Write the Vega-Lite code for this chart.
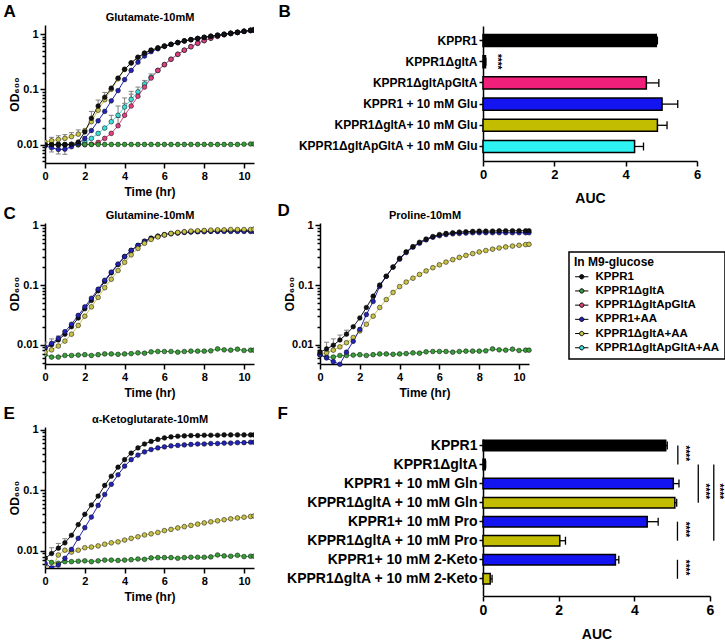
{
"$schema":"https://vega.github.io/schema/vega-lite/v6.json",
"background":"white",
"padding":{"left":3,"top":2,"right":0,"bottom":0},
"datasets":{
"ln":[
{"p":"A","s":"pa","t":0,"y":0.01},{"p":"A","s":"pa","t":0.33,"y":0.01},{"p":"A","s":"pa","t":0.67,"y":0.01},{"p":"A","s":"pa","t":1,"y":0.01},{"p":"A","s":"pa","t":1.33,"y":0.01},{"p":"A","s":"pa","t":1.67,"y":0.01},{"p":"A","s":"pa","t":2,"y":0.011},{"p":"A","s":"pa","t":2.33,"y":0.013},{"p":"A","s":"pa","t":2.67,"y":0.016},{"p":"A","s":"pa","t":3,"y":0.02},{"p":"A","s":"pa","t":3.33,"y":0.026},{"p":"A","s":"pa","t":3.67,"y":0.034},{"p":"A","s":"pa","t":4,"y":0.048},{"p":"A","s":"pa","t":4.33,"y":0.066},{"p":"A","s":"pa","t":4.67,"y":0.09},{"p":"A","s":"pa","t":5,"y":0.125},{"p":"A","s":"pa","t":5.33,"y":0.165},{"p":"A","s":"pa","t":5.67,"y":0.22},{"p":"A","s":"pa","t":6,"y":0.28},{"p":"A","s":"pa","t":6.33,"y":0.35},{"p":"A","s":"pa","t":6.67,"y":0.43},{"p":"A","s":"pa","t":7,"y":0.51},{"p":"A","s":"pa","t":7.33,"y":0.59},{"p":"A","s":"pa","t":7.67,"y":0.68},{"p":"A","s":"pa","t":8,"y":0.76},{"p":"A","s":"pa","t":8.33,"y":0.84},{"p":"A","s":"pa","t":8.67,"y":0.91},{"p":"A","s":"pa","t":9,"y":0.97},{"p":"A","s":"pa","t":9.33,"y":1.02},{"p":"A","s":"pa","t":9.67,"y":1.07},{"p":"A","s":"pa","t":10,"y":1.12},{"p":"A","s":"pa","t":10.33,"y":1.17},{"p":"A","s":"pa","t":10.5,"y":1.2},
{"p":"A","s":"p","t":0,"y":0.01},{"p":"A","s":"p","t":0.33,"y":0.01},{"p":"A","s":"p","t":0.67,"y":0.01},{"p":"A","s":"p","t":1,"y":0.01},{"p":"A","s":"p","t":1.33,"y":0.01},{"p":"A","s":"p","t":1.67,"y":0.01},{"p":"A","s":"p","t":2,"y":0.01},{"p":"A","s":"p","t":2.33,"y":0.0102},{"p":"A","s":"p","t":2.67,"y":0.011},{"p":"A","s":"p","t":3,"y":0.013},{"p":"A","s":"p","t":3.33,"y":0.016},{"p":"A","s":"p","t":3.67,"y":0.022},{"p":"A","s":"p","t":4,"y":0.034},{"p":"A","s":"p","t":4.33,"y":0.05},{"p":"A","s":"p","t":4.67,"y":0.075},{"p":"A","s":"p","t":5,"y":0.11},{"p":"A","s":"p","t":5.33,"y":0.16},{"p":"A","s":"p","t":5.67,"y":0.22},{"p":"A","s":"p","t":6,"y":0.28},{"p":"A","s":"p","t":6.33,"y":0.35},{"p":"A","s":"p","t":6.67,"y":0.43},{"p":"A","s":"p","t":7,"y":0.51},{"p":"A","s":"p","t":7.33,"y":0.59},{"p":"A","s":"p","t":7.67,"y":0.68},{"p":"A","s":"p","t":8,"y":0.76},{"p":"A","s":"p","t":8.33,"y":0.84},{"p":"A","s":"p","t":8.67,"y":0.91},{"p":"A","s":"p","t":9,"y":0.97},{"p":"A","s":"p","t":9.33,"y":1.02},{"p":"A","s":"p","t":9.67,"y":1.07},{"p":"A","s":"p","t":10,"y":1.12},{"p":"A","s":"p","t":10.33,"y":1.17},{"p":"A","s":"p","t":10.5,"y":1.2},
{"p":"A","s":"g","t":0,"y":0.0101},{"p":"A","s":"g","t":0.33,"y":0.0101},{"p":"A","s":"g","t":0.67,"y":0.0101},{"p":"A","s":"g","t":1,"y":0.0101},{"p":"A","s":"g","t":1.33,"y":0.0101},{"p":"A","s":"g","t":1.67,"y":0.0101},{"p":"A","s":"g","t":2,"y":0.0101},{"p":"A","s":"g","t":2.33,"y":0.0101},{"p":"A","s":"g","t":2.67,"y":0.0101},{"p":"A","s":"g","t":3,"y":0.0101},{"p":"A","s":"g","t":3.33,"y":0.0101},{"p":"A","s":"g","t":3.67,"y":0.0101},{"p":"A","s":"g","t":4,"y":0.0101},{"p":"A","s":"g","t":4.33,"y":0.0101},{"p":"A","s":"g","t":4.67,"y":0.0101},{"p":"A","s":"g","t":5,"y":0.0101},{"p":"A","s":"g","t":5.33,"y":0.0101},{"p":"A","s":"g","t":5.67,"y":0.0101},{"p":"A","s":"g","t":6,"y":0.0101},{"p":"A","s":"g","t":6.33,"y":0.0101},{"p":"A","s":"g","t":6.67,"y":0.0101},{"p":"A","s":"g","t":7,"y":0.0101},{"p":"A","s":"g","t":7.33,"y":0.0101},{"p":"A","s":"g","t":7.67,"y":0.0101},{"p":"A","s":"g","t":8,"y":0.0101},{"p":"A","s":"g","t":8.33,"y":0.0101},{"p":"A","s":"g","t":8.67,"y":0.0101},{"p":"A","s":"g","t":9,"y":0.0101},{"p":"A","s":"g","t":9.33,"y":0.0101},{"p":"A","s":"g","t":9.67,"y":0.0101},{"p":"A","s":"g","t":10,"y":0.0102},{"p":"A","s":"g","t":10.33,"y":0.0103},{"p":"A","s":"g","t":10.5,"y":0.0103},
{"p":"A","s":"ga","t":0,"y":0.0112},{"p":"A","s":"ga","t":0.33,"y":0.0118},{"p":"A","s":"ga","t":0.67,"y":0.0124},{"p":"A","s":"ga","t":1,"y":0.013},{"p":"A","s":"ga","t":1.33,"y":0.014},{"p":"A","s":"ga","t":1.67,"y":0.0155},{"p":"A","s":"ga","t":2,"y":0.018},{"p":"A","s":"ga","t":2.33,"y":0.026},{"p":"A","s":"ga","t":2.67,"y":0.042},{"p":"A","s":"ga","t":3,"y":0.065},{"p":"A","s":"ga","t":3.33,"y":0.1},{"p":"A","s":"ga","t":3.67,"y":0.155},{"p":"A","s":"ga","t":4,"y":0.23},{"p":"A","s":"ga","t":4.33,"y":0.3},{"p":"A","s":"ga","t":4.67,"y":0.38},{"p":"A","s":"ga","t":5,"y":0.45},{"p":"A","s":"ga","t":5.33,"y":0.51},{"p":"A","s":"ga","t":5.67,"y":0.56},{"p":"A","s":"ga","t":6,"y":0.61},{"p":"A","s":"ga","t":6.33,"y":0.65},{"p":"A","s":"ga","t":6.67,"y":0.7},{"p":"A","s":"ga","t":7,"y":0.75},{"p":"A","s":"ga","t":7.33,"y":0.79},{"p":"A","s":"ga","t":7.67,"y":0.83},{"p":"A","s":"ga","t":8,"y":0.87},{"p":"A","s":"ga","t":8.33,"y":0.91},{"p":"A","s":"ga","t":8.67,"y":0.95},{"p":"A","s":"ga","t":9,"y":0.99},{"p":"A","s":"ga","t":9.33,"y":1.03},{"p":"A","s":"ga","t":9.67,"y":1.07},{"p":"A","s":"ga","t":10,"y":1.12},{"p":"A","s":"ga","t":10.33,"y":1.16},{"p":"A","s":"ga","t":10.5,"y":1.18},
{"p":"A","s":"ka","t":0,"y":0.0095},{"p":"A","s":"ka","t":0.33,"y":0.0088},{"p":"A","s":"ka","t":0.67,"y":0.0082},{"p":"A","s":"ka","t":1,"y":0.0083},{"p":"A","s":"ka","t":1.33,"y":0.0092},{"p":"A","s":"ka","t":1.67,"y":0.0105},{"p":"A","s":"ka","t":2,"y":0.013},{"p":"A","s":"ka","t":2.33,"y":0.018},{"p":"A","s":"ka","t":2.67,"y":0.027},{"p":"A","s":"ka","t":3,"y":0.04},{"p":"A","s":"ka","t":3.33,"y":0.062},{"p":"A","s":"ka","t":3.67,"y":0.095},{"p":"A","s":"ka","t":4,"y":0.15},{"p":"A","s":"ka","t":4.33,"y":0.22},{"p":"A","s":"ka","t":4.67,"y":0.31},{"p":"A","s":"ka","t":5,"y":0.4},{"p":"A","s":"ka","t":5.33,"y":0.48},{"p":"A","s":"ka","t":5.67,"y":0.54},{"p":"A","s":"ka","t":6,"y":0.6},{"p":"A","s":"ka","t":6.33,"y":0.65},{"p":"A","s":"ka","t":6.67,"y":0.7},{"p":"A","s":"ka","t":7,"y":0.75},{"p":"A","s":"ka","t":7.33,"y":0.79},{"p":"A","s":"ka","t":7.67,"y":0.83},{"p":"A","s":"ka","t":8,"y":0.87},{"p":"A","s":"ka","t":8.33,"y":0.91},{"p":"A","s":"ka","t":8.67,"y":0.95},{"p":"A","s":"ka","t":9,"y":0.99},{"p":"A","s":"ka","t":9.33,"y":1.03},{"p":"A","s":"ka","t":9.67,"y":1.07},{"p":"A","s":"ka","t":10,"y":1.11},{"p":"A","s":"ka","t":10.33,"y":1.15},{"p":"A","s":"ka","t":10.5,"y":1.17},
{"p":"A","s":"k","t":0,"y":0.01},{"p":"A","s":"k","t":0.33,"y":0.01},{"p":"A","s":"k","t":0.67,"y":0.01},{"p":"A","s":"k","t":1,"y":0.01},{"p":"A","s":"k","t":1.33,"y":0.0102},{"p":"A","s":"k","t":1.67,"y":0.0112},{"p":"A","s":"k","t":2,"y":0.017},{"p":"A","s":"k","t":2.33,"y":0.03},{"p":"A","s":"k","t":2.67,"y":0.05},{"p":"A","s":"k","t":3,"y":0.072},{"p":"A","s":"k","t":3.33,"y":0.105},{"p":"A","s":"k","t":3.67,"y":0.16},{"p":"A","s":"k","t":4,"y":0.23},{"p":"A","s":"k","t":4.33,"y":0.3},{"p":"A","s":"k","t":4.67,"y":0.38},{"p":"A","s":"k","t":5,"y":0.45},{"p":"A","s":"k","t":5.33,"y":0.51},{"p":"A","s":"k","t":5.67,"y":0.56},{"p":"A","s":"k","t":6,"y":0.6},{"p":"A","s":"k","t":6.33,"y":0.65},{"p":"A","s":"k","t":6.67,"y":0.7},{"p":"A","s":"k","t":7,"y":0.75},{"p":"A","s":"k","t":7.33,"y":0.79},{"p":"A","s":"k","t":7.67,"y":0.83},{"p":"A","s":"k","t":8,"y":0.87},{"p":"A","s":"k","t":8.33,"y":0.91},{"p":"A","s":"k","t":8.67,"y":0.95},{"p":"A","s":"k","t":9,"y":0.99},{"p":"A","s":"k","t":9.33,"y":1.03},{"p":"A","s":"k","t":9.67,"y":1.07},{"p":"A","s":"k","t":10,"y":1.12},{"p":"A","s":"k","t":10.33,"y":1.16},{"p":"A","s":"k","t":10.5,"y":1.18},
{"p":"C","s":"g","t":0,"y":0.0068},{"p":"C","s":"g","t":0.33,"y":0.0062},{"p":"C","s":"g","t":0.67,"y":0.0062},{"p":"C","s":"g","t":1,"y":0.0066},{"p":"C","s":"g","t":1.33,"y":0.0066},{"p":"C","s":"g","t":1.67,"y":0.0067},{"p":"C","s":"g","t":2,"y":0.0068},{"p":"C","s":"g","t":2.33,"y":0.0066},{"p":"C","s":"g","t":2.67,"y":0.0068},{"p":"C","s":"g","t":3,"y":0.007},{"p":"C","s":"g","t":3.33,"y":0.007},{"p":"C","s":"g","t":3.67,"y":0.0069},{"p":"C","s":"g","t":4,"y":0.007},{"p":"C","s":"g","t":4.33,"y":0.0071},{"p":"C","s":"g","t":4.67,"y":0.0073},{"p":"C","s":"g","t":5,"y":0.0072},{"p":"C","s":"g","t":5.33,"y":0.0076},{"p":"C","s":"g","t":5.67,"y":0.0077},{"p":"C","s":"g","t":6,"y":0.0077},{"p":"C","s":"g","t":6.33,"y":0.0077},{"p":"C","s":"g","t":6.67,"y":0.0075},{"p":"C","s":"g","t":7,"y":0.0077},{"p":"C","s":"g","t":7.33,"y":0.0078},{"p":"C","s":"g","t":7.67,"y":0.0078},{"p":"C","s":"g","t":8,"y":0.0078},{"p":"C","s":"g","t":8.33,"y":0.0079},{"p":"C","s":"g","t":8.67,"y":0.0085},{"p":"C","s":"g","t":9,"y":0.0082},{"p":"C","s":"g","t":9.33,"y":0.0081},{"p":"C","s":"g","t":9.67,"y":0.0084},{"p":"C","s":"g","t":10,"y":0.008},{"p":"C","s":"g","t":10.33,"y":0.0081},{"p":"C","s":"g","t":10.5,"y":0.0081},
{"p":"C","s":"k","t":0,"y":0.0085},{"p":"C","s":"k","t":0.33,"y":0.01},{"p":"C","s":"k","t":0.67,"y":0.012},{"p":"C","s":"k","t":1,"y":0.015},{"p":"C","s":"k","t":1.33,"y":0.02},{"p":"C","s":"k","t":1.67,"y":0.028},{"p":"C","s":"k","t":2,"y":0.04},{"p":"C","s":"k","t":2.33,"y":0.055},{"p":"C","s":"k","t":2.67,"y":0.08},{"p":"C","s":"k","t":3,"y":0.115},{"p":"C","s":"k","t":3.33,"y":0.16},{"p":"C","s":"k","t":3.67,"y":0.22},{"p":"C","s":"k","t":4,"y":0.3},{"p":"C","s":"k","t":4.33,"y":0.38},{"p":"C","s":"k","t":4.67,"y":0.46},{"p":"C","s":"k","t":5,"y":0.54},{"p":"C","s":"k","t":5.33,"y":0.61},{"p":"C","s":"k","t":5.67,"y":0.66},{"p":"C","s":"k","t":6,"y":0.7},{"p":"C","s":"k","t":6.33,"y":0.73},{"p":"C","s":"k","t":6.67,"y":0.75},{"p":"C","s":"k","t":7,"y":0.77},{"p":"C","s":"k","t":7.33,"y":0.78},{"p":"C","s":"k","t":7.67,"y":0.79},{"p":"C","s":"k","t":8,"y":0.8},{"p":"C","s":"k","t":8.33,"y":0.8},{"p":"C","s":"k","t":8.67,"y":0.8},{"p":"C","s":"k","t":9,"y":0.81},{"p":"C","s":"k","t":9.33,"y":0.81},{"p":"C","s":"k","t":9.67,"y":0.81},{"p":"C","s":"k","t":10,"y":0.81},{"p":"C","s":"k","t":10.33,"y":0.81},{"p":"C","s":"k","t":10.5,"y":0.81},
{"p":"C","s":"ka","t":0,"y":0.009},{"p":"C","s":"ka","t":0.33,"y":0.0105},{"p":"C","s":"ka","t":0.67,"y":0.0128},{"p":"C","s":"ka","t":1,"y":0.0165},{"p":"C","s":"ka","t":1.33,"y":0.022},{"p":"C","s":"ka","t":1.67,"y":0.031},{"p":"C","s":"ka","t":2,"y":0.043},{"p":"C","s":"ka","t":2.33,"y":0.06},{"p":"C","s":"ka","t":2.67,"y":0.085},{"p":"C","s":"ka","t":3,"y":0.12},{"p":"C","s":"ka","t":3.33,"y":0.165},{"p":"C","s":"ka","t":3.67,"y":0.225},{"p":"C","s":"ka","t":4,"y":0.3},{"p":"C","s":"ka","t":4.33,"y":0.38},{"p":"C","s":"ka","t":4.67,"y":0.46},{"p":"C","s":"ka","t":5,"y":0.54},{"p":"C","s":"ka","t":5.33,"y":0.6},{"p":"C","s":"ka","t":5.67,"y":0.65},{"p":"C","s":"ka","t":6,"y":0.69},{"p":"C","s":"ka","t":6.33,"y":0.72},{"p":"C","s":"ka","t":6.67,"y":0.74},{"p":"C","s":"ka","t":7,"y":0.76},{"p":"C","s":"ka","t":7.33,"y":0.77},{"p":"C","s":"ka","t":7.67,"y":0.78},{"p":"C","s":"ka","t":8,"y":0.78},{"p":"C","s":"ka","t":8.33,"y":0.79},{"p":"C","s":"ka","t":8.67,"y":0.79},{"p":"C","s":"ka","t":9,"y":0.79},{"p":"C","s":"ka","t":9.33,"y":0.79},{"p":"C","s":"ka","t":9.67,"y":0.79},{"p":"C","s":"ka","t":10,"y":0.79},{"p":"C","s":"ka","t":10.33,"y":0.79},{"p":"C","s":"ka","t":10.5,"y":0.79},
{"p":"C","s":"ga","t":0,"y":0.0075},{"p":"C","s":"ga","t":0.33,"y":0.0082},{"p":"C","s":"ga","t":0.67,"y":0.0095},{"p":"C","s":"ga","t":1,"y":0.0115},{"p":"C","s":"ga","t":1.33,"y":0.015},{"p":"C","s":"ga","t":1.67,"y":0.021},{"p":"C","s":"ga","t":2,"y":0.03},{"p":"C","s":"ga","t":2.33,"y":0.043},{"p":"C","s":"ga","t":2.67,"y":0.062},{"p":"C","s":"ga","t":3,"y":0.09},{"p":"C","s":"ga","t":3.33,"y":0.125},{"p":"C","s":"ga","t":3.67,"y":0.175},{"p":"C","s":"ga","t":4,"y":0.24},{"p":"C","s":"ga","t":4.33,"y":0.32},{"p":"C","s":"ga","t":4.67,"y":0.41},{"p":"C","s":"ga","t":5,"y":0.5},{"p":"C","s":"ga","t":5.33,"y":0.58},{"p":"C","s":"ga","t":5.67,"y":0.64},{"p":"C","s":"ga","t":6,"y":0.69},{"p":"C","s":"ga","t":6.33,"y":0.73},{"p":"C","s":"ga","t":6.67,"y":0.76},{"p":"C","s":"ga","t":7,"y":0.78},{"p":"C","s":"ga","t":7.33,"y":0.8},{"p":"C","s":"ga","t":7.67,"y":0.81},{"p":"C","s":"ga","t":8,"y":0.82},{"p":"C","s":"ga","t":8.33,"y":0.83},{"p":"C","s":"ga","t":8.67,"y":0.84},{"p":"C","s":"ga","t":9,"y":0.84},{"p":"C","s":"ga","t":9.33,"y":0.85},{"p":"C","s":"ga","t":9.67,"y":0.85},{"p":"C","s":"ga","t":10,"y":0.85},{"p":"C","s":"ga","t":10.33,"y":0.85},{"p":"C","s":"ga","t":10.5,"y":0.86},
{"p":"D","s":"g","t":0,"y":0.0068},{"p":"D","s":"g","t":0.33,"y":0.0062},{"p":"D","s":"g","t":0.67,"y":0.0062},{"p":"D","s":"g","t":1,"y":0.0066},{"p":"D","s":"g","t":1.33,"y":0.0066},{"p":"D","s":"g","t":1.67,"y":0.0067},{"p":"D","s":"g","t":2,"y":0.0068},{"p":"D","s":"g","t":2.33,"y":0.0066},{"p":"D","s":"g","t":2.67,"y":0.0068},{"p":"D","s":"g","t":3,"y":0.007},{"p":"D","s":"g","t":3.33,"y":0.007},{"p":"D","s":"g","t":3.67,"y":0.0069},{"p":"D","s":"g","t":4,"y":0.007},{"p":"D","s":"g","t":4.33,"y":0.0071},{"p":"D","s":"g","t":4.67,"y":0.0073},{"p":"D","s":"g","t":5,"y":0.0072},{"p":"D","s":"g","t":5.33,"y":0.0076},{"p":"D","s":"g","t":5.67,"y":0.0077},{"p":"D","s":"g","t":6,"y":0.0077},{"p":"D","s":"g","t":6.33,"y":0.0077},{"p":"D","s":"g","t":6.67,"y":0.0075},{"p":"D","s":"g","t":7,"y":0.0077},{"p":"D","s":"g","t":7.33,"y":0.0078},{"p":"D","s":"g","t":7.67,"y":0.0078},{"p":"D","s":"g","t":8,"y":0.0078},{"p":"D","s":"g","t":8.33,"y":0.0079},{"p":"D","s":"g","t":8.67,"y":0.0085},{"p":"D","s":"g","t":9,"y":0.0082},{"p":"D","s":"g","t":9.33,"y":0.0081},{"p":"D","s":"g","t":9.67,"y":0.0084},{"p":"D","s":"g","t":10,"y":0.008},{"p":"D","s":"g","t":10.33,"y":0.0081},{"p":"D","s":"g","t":10.5,"y":0.0081},
{"p":"D","s":"ga","t":0,"y":0.0068},{"p":"D","s":"ga","t":0.33,"y":0.0073},{"p":"D","s":"ga","t":0.67,"y":0.0081},{"p":"D","s":"ga","t":1,"y":0.0092},{"p":"D","s":"ga","t":1.33,"y":0.0108},{"p":"D","s":"ga","t":1.67,"y":0.0132},{"p":"D","s":"ga","t":2,"y":0.017},{"p":"D","s":"ga","t":2.33,"y":0.022},{"p":"D","s":"ga","t":2.67,"y":0.03},{"p":"D","s":"ga","t":3,"y":0.042},{"p":"D","s":"ga","t":3.33,"y":0.057},{"p":"D","s":"ga","t":3.67,"y":0.075},{"p":"D","s":"ga","t":4,"y":0.094},{"p":"D","s":"ga","t":4.33,"y":0.112},{"p":"D","s":"ga","t":4.67,"y":0.13},{"p":"D","s":"ga","t":5,"y":0.15},{"p":"D","s":"ga","t":5.33,"y":0.172},{"p":"D","s":"ga","t":5.67,"y":0.195},{"p":"D","s":"ga","t":6,"y":0.218},{"p":"D","s":"ga","t":6.33,"y":0.242},{"p":"D","s":"ga","t":6.67,"y":0.266},{"p":"D","s":"ga","t":7,"y":0.29},{"p":"D","s":"ga","t":7.33,"y":0.313},{"p":"D","s":"ga","t":7.67,"y":0.336},{"p":"D","s":"ga","t":8,"y":0.358},{"p":"D","s":"ga","t":8.33,"y":0.378},{"p":"D","s":"ga","t":8.67,"y":0.398},{"p":"D","s":"ga","t":9,"y":0.417},{"p":"D","s":"ga","t":9.33,"y":0.434},{"p":"D","s":"ga","t":9.67,"y":0.449},{"p":"D","s":"ga","t":10,"y":0.463},{"p":"D","s":"ga","t":10.33,"y":0.475},{"p":"D","s":"ga","t":10.5,"y":0.48},
{"p":"D","s":"ka","t":0,"y":0.0068},{"p":"D","s":"ka","t":0.33,"y":0.006},{"p":"D","s":"ka","t":0.67,"y":0.0052},{"p":"D","s":"ka","t":1,"y":0.0047},{"p":"D","s":"ka","t":1.33,"y":0.0075},{"p":"D","s":"ka","t":1.67,"y":0.0114},{"p":"D","s":"ka","t":2,"y":0.018},{"p":"D","s":"ka","t":2.33,"y":0.032},{"p":"D","s":"ka","t":2.67,"y":0.053},{"p":"D","s":"ka","t":3,"y":0.095},{"p":"D","s":"ka","t":3.33,"y":0.14},{"p":"D","s":"ka","t":3.67,"y":0.2},{"p":"D","s":"ka","t":4,"y":0.27},{"p":"D","s":"ka","t":4.33,"y":0.35},{"p":"D","s":"ka","t":4.67,"y":0.43},{"p":"D","s":"ka","t":5,"y":0.5},{"p":"D","s":"ka","t":5.33,"y":0.57},{"p":"D","s":"ka","t":5.67,"y":0.63},{"p":"D","s":"ka","t":6,"y":0.67},{"p":"D","s":"ka","t":6.33,"y":0.7},{"p":"D","s":"ka","t":6.67,"y":0.72},{"p":"D","s":"ka","t":7,"y":0.73},{"p":"D","s":"ka","t":7.33,"y":0.74},{"p":"D","s":"ka","t":7.67,"y":0.75},{"p":"D","s":"ka","t":8,"y":0.75},{"p":"D","s":"ka","t":8.33,"y":0.75},{"p":"D","s":"ka","t":8.67,"y":0.75},{"p":"D","s":"ka","t":9,"y":0.75},{"p":"D","s":"ka","t":9.33,"y":0.75},{"p":"D","s":"ka","t":9.67,"y":0.75},{"p":"D","s":"ka","t":10,"y":0.75},{"p":"D","s":"ka","t":10.33,"y":0.75},{"p":"D","s":"ka","t":10.5,"y":0.75},
{"p":"D","s":"k","t":0,"y":0.0075},{"p":"D","s":"k","t":0.33,"y":0.0085},{"p":"D","s":"k","t":0.67,"y":0.0098},{"p":"D","s":"k","t":1,"y":0.012},{"p":"D","s":"k","t":1.33,"y":0.015},{"p":"D","s":"k","t":1.67,"y":0.02},{"p":"D","s":"k","t":2,"y":0.028},{"p":"D","s":"k","t":2.33,"y":0.042},{"p":"D","s":"k","t":2.67,"y":0.065},{"p":"D","s":"k","t":3,"y":0.1},{"p":"D","s":"k","t":3.33,"y":0.14},{"p":"D","s":"k","t":3.67,"y":0.2},{"p":"D","s":"k","t":4,"y":0.28},{"p":"D","s":"k","t":4.33,"y":0.36},{"p":"D","s":"k","t":4.67,"y":0.44},{"p":"D","s":"k","t":5,"y":0.52},{"p":"D","s":"k","t":5.33,"y":0.59},{"p":"D","s":"k","t":5.67,"y":0.65},{"p":"D","s":"k","t":6,"y":0.7},{"p":"D","s":"k","t":6.33,"y":0.73},{"p":"D","s":"k","t":6.67,"y":0.75},{"p":"D","s":"k","t":7,"y":0.77},{"p":"D","s":"k","t":7.33,"y":0.78},{"p":"D","s":"k","t":7.67,"y":0.79},{"p":"D","s":"k","t":8,"y":0.8},{"p":"D","s":"k","t":8.33,"y":0.8},{"p":"D","s":"k","t":8.67,"y":0.8},{"p":"D","s":"k","t":9,"y":0.81},{"p":"D","s":"k","t":9.33,"y":0.81},{"p":"D","s":"k","t":9.67,"y":0.81},{"p":"D","s":"k","t":10,"y":0.81},{"p":"D","s":"k","t":10.33,"y":0.81},{"p":"D","s":"k","t":10.5,"y":0.81},
{"p":"E","s":"g","t":0,"y":0.0075},{"p":"E","s":"g","t":0.33,"y":0.0064},{"p":"E","s":"g","t":0.67,"y":0.0062},{"p":"E","s":"g","t":1,"y":0.0066},{"p":"E","s":"g","t":1.33,"y":0.0066},{"p":"E","s":"g","t":1.67,"y":0.0067},{"p":"E","s":"g","t":2,"y":0.0068},{"p":"E","s":"g","t":2.33,"y":0.0066},{"p":"E","s":"g","t":2.67,"y":0.0068},{"p":"E","s":"g","t":3,"y":0.007},{"p":"E","s":"g","t":3.33,"y":0.007},{"p":"E","s":"g","t":3.67,"y":0.0069},{"p":"E","s":"g","t":4,"y":0.007},{"p":"E","s":"g","t":4.33,"y":0.0071},{"p":"E","s":"g","t":4.67,"y":0.0073},{"p":"E","s":"g","t":5,"y":0.0072},{"p":"E","s":"g","t":5.33,"y":0.0076},{"p":"E","s":"g","t":5.67,"y":0.0077},{"p":"E","s":"g","t":6,"y":0.0077},{"p":"E","s":"g","t":6.33,"y":0.0077},{"p":"E","s":"g","t":6.67,"y":0.0075},{"p":"E","s":"g","t":7,"y":0.0077},{"p":"E","s":"g","t":7.33,"y":0.0078},{"p":"E","s":"g","t":7.67,"y":0.0078},{"p":"E","s":"g","t":8,"y":0.0078},{"p":"E","s":"g","t":8.33,"y":0.0079},{"p":"E","s":"g","t":8.67,"y":0.0085},{"p":"E","s":"g","t":9,"y":0.0082},{"p":"E","s":"g","t":9.33,"y":0.0081},{"p":"E","s":"g","t":9.67,"y":0.0084},{"p":"E","s":"g","t":10,"y":0.008},{"p":"E","s":"g","t":10.33,"y":0.0081},{"p":"E","s":"g","t":10.5,"y":0.0081},
{"p":"E","s":"ga","t":0,"y":0.006},{"p":"E","s":"ga","t":0.33,"y":0.0048},{"p":"E","s":"ga","t":0.67,"y":0.0085},{"p":"E","s":"ga","t":1,"y":0.0102},{"p":"E","s":"ga","t":1.33,"y":0.0095},{"p":"E","s":"ga","t":1.67,"y":0.0102},{"p":"E","s":"ga","t":2,"y":0.0112},{"p":"E","s":"ga","t":2.33,"y":0.0115},{"p":"E","s":"ga","t":2.67,"y":0.012},{"p":"E","s":"ga","t":3,"y":0.0128},{"p":"E","s":"ga","t":3.33,"y":0.0135},{"p":"E","s":"ga","t":3.67,"y":0.014},{"p":"E","s":"ga","t":4,"y":0.015},{"p":"E","s":"ga","t":4.33,"y":0.016},{"p":"E","s":"ga","t":4.67,"y":0.017},{"p":"E","s":"ga","t":5,"y":0.0182},{"p":"E","s":"ga","t":5.33,"y":0.019},{"p":"E","s":"ga","t":5.67,"y":0.02},{"p":"E","s":"ga","t":6,"y":0.0215},{"p":"E","s":"ga","t":6.33,"y":0.0225},{"p":"E","s":"ga","t":6.67,"y":0.0238},{"p":"E","s":"ga","t":7,"y":0.025},{"p":"E","s":"ga","t":7.33,"y":0.0262},{"p":"E","s":"ga","t":7.67,"y":0.0275},{"p":"E","s":"ga","t":8,"y":0.0288},{"p":"E","s":"ga","t":8.33,"y":0.03},{"p":"E","s":"ga","t":8.67,"y":0.0312},{"p":"E","s":"ga","t":9,"y":0.0325},{"p":"E","s":"ga","t":9.33,"y":0.0337},{"p":"E","s":"ga","t":9.67,"y":0.0348},{"p":"E","s":"ga","t":10,"y":0.0358},{"p":"E","s":"ga","t":10.33,"y":0.0368},{"p":"E","s":"ga","t":10.5,"y":0.0375},
{"p":"E","s":"ka","t":0,"y":0.0062},{"p":"E","s":"ka","t":0.33,"y":0.0052},{"p":"E","s":"ka","t":0.67,"y":0.0058},{"p":"E","s":"ka","t":1,"y":0.0075},{"p":"E","s":"ka","t":1.33,"y":0.0105},{"p":"E","s":"ka","t":1.67,"y":0.016},{"p":"E","s":"ka","t":2,"y":0.024},{"p":"E","s":"ka","t":2.33,"y":0.036},{"p":"E","s":"ka","t":2.67,"y":0.056},{"p":"E","s":"ka","t":3,"y":0.085},{"p":"E","s":"ka","t":3.33,"y":0.125},{"p":"E","s":"ka","t":3.67,"y":0.18},{"p":"E","s":"ka","t":4,"y":0.25},{"p":"E","s":"ka","t":4.33,"y":0.32},{"p":"E","s":"ka","t":4.67,"y":0.38},{"p":"E","s":"ka","t":5,"y":0.43},{"p":"E","s":"ka","t":5.33,"y":0.47},{"p":"E","s":"ka","t":5.67,"y":0.5},{"p":"E","s":"ka","t":6,"y":0.52},{"p":"E","s":"ka","t":6.33,"y":0.54},{"p":"E","s":"ka","t":6.67,"y":0.55},{"p":"E","s":"ka","t":7,"y":0.56},{"p":"E","s":"ka","t":7.33,"y":0.57},{"p":"E","s":"ka","t":7.67,"y":0.58},{"p":"E","s":"ka","t":8,"y":0.58},{"p":"E","s":"ka","t":8.33,"y":0.59},{"p":"E","s":"ka","t":8.67,"y":0.59},{"p":"E","s":"ka","t":9,"y":0.6},{"p":"E","s":"ka","t":9.33,"y":0.6},{"p":"E","s":"ka","t":9.67,"y":0.61},{"p":"E","s":"ka","t":10,"y":0.61},{"p":"E","s":"ka","t":10.33,"y":0.62},{"p":"E","s":"ka","t":10.5,"y":0.62},
{"p":"E","s":"k","t":0,"y":0.0075},{"p":"E","s":"k","t":0.33,"y":0.009},{"p":"E","s":"k","t":0.67,"y":0.011},{"p":"E","s":"k","t":1,"y":0.0135},{"p":"E","s":"k","t":1.33,"y":0.018},{"p":"E","s":"k","t":1.67,"y":0.027},{"p":"E","s":"k","t":2,"y":0.04},{"p":"E","s":"k","t":2.33,"y":0.057},{"p":"E","s":"k","t":2.67,"y":0.08},{"p":"E","s":"k","t":3,"y":0.12},{"p":"E","s":"k","t":3.33,"y":0.17},{"p":"E","s":"k","t":3.67,"y":0.24},{"p":"E","s":"k","t":4,"y":0.32},{"p":"E","s":"k","t":4.33,"y":0.41},{"p":"E","s":"k","t":4.67,"y":0.5},{"p":"E","s":"k","t":5,"y":0.58},{"p":"E","s":"k","t":5.33,"y":0.64},{"p":"E","s":"k","t":5.67,"y":0.69},{"p":"E","s":"k","t":6,"y":0.73},{"p":"E","s":"k","t":6.33,"y":0.76},{"p":"E","s":"k","t":6.67,"y":0.78},{"p":"E","s":"k","t":7,"y":0.79},{"p":"E","s":"k","t":7.33,"y":0.8},{"p":"E","s":"k","t":7.67,"y":0.8},{"p":"E","s":"k","t":8,"y":0.81},{"p":"E","s":"k","t":8.33,"y":0.81},{"p":"E","s":"k","t":8.67,"y":0.81},{"p":"E","s":"k","t":9,"y":0.82},{"p":"E","s":"k","t":9.33,"y":0.82},{"p":"E","s":"k","t":9.67,"y":0.82},{"p":"E","s":"k","t":10,"y":0.82},{"p":"E","s":"k","t":10.33,"y":0.82},{"p":"E","s":"k","t":10.5,"y":0.82}
],
"err":[
{"p":"A","t":0.33,"y":0.0118,"e":0.0136},{"p":"A","t":0.67,"y":0.0124,"e":0.0145},{"p":"A","t":1,"y":0.013,"e":0.0152},{"p":"A","t":1.33,"y":0.014,"e":0.0165},{"p":"A","t":1.67,"y":0.0155,"e":0.0185},
{"p":"A","t":0.33,"y":0.0088,"e":0.0074},{"p":"A","t":0.67,"y":0.0082,"e":0.0068},{"p":"A","t":1,"y":0.0083,"e":0.0067},
{"p":"A","t":2.33,"y":0.03,"e":0.04},{"p":"A","t":2.67,"y":0.05,"e":0.064},{"p":"A","t":3,"y":0.072,"e":0.088},
{"p":"A","t":3.33,"y":0.026,"e":0.034},{"p":"A","t":3.67,"y":0.034,"e":0.05},{"p":"A","t":4,"y":0.048,"e":0.07},{"p":"A","t":4.33,"y":0.066,"e":0.092},
{"p":"A","t":3.67,"y":0.022,"e":0.031},{"p":"A","t":4,"y":0.034,"e":0.056},{"p":"A","t":4.33,"y":0.05,"e":0.082},{"p":"A","t":4.67,"y":0.075,"e":0.11},{"p":"A","t":5,"y":0.11,"e":0.145},{"p":"A","t":5.33,"y":0.16,"e":0.19},
{"p":"C","t":0,"y":0.0085,"e":0.011},{"p":"C","t":0.33,"y":0.01,"e":0.0125},{"p":"C","t":0.67,"y":0.012,"e":0.014},
{"p":"D","t":0.33,"y":0.0085,"e":0.011},{"p":"D","t":0.67,"y":0.0098,"e":0.0125},{"p":"D","t":1,"y":0.012,"e":0.0145},{"p":"D","t":1.33,"y":0.015,"e":0.0175},
{"p":"E","t":0.33,"y":0.009,"e":0.0112},{"p":"E","t":0.67,"y":0.011,"e":0.0132},{"p":"E","t":1,"y":0.0135,"e":0.0158}
],
"b":[
{"lab":"KPPR1","s":"k","v":4.86,"hi":4.89},
{"lab":"KPPR1ΔgltA","s":"g","v":0.07,"hi":0.08},
{"lab":"KPPR1ΔgltApGltA","s":"p","v":4.58,"hi":4.93},
{"lab":"KPPR1 + 10 mM Glu","s":"ka","v":5.02,"hi":5.46},
{"lab":"KPPR1ΔgltA+ 10 mM Glu","s":"ga","v":4.89,"hi":5.16},
{"lab":"KPPR1ΔgltApGltA + 10 mM Glu","s":"pa","v":4.25,"hi":4.5}
],
"f":[
{"lab":"KPPR1","s":"k","v":4.83,"hi":4.87},
{"lab":"KPPR1ΔgltA","s":"g","v":0.06,"hi":0.07},
{"lab":"KPPR1 + 10 mM Gln","s":"ka","v":5.03,"hi":5.18},
{"lab":"KPPR1ΔgltA + 10 mM Gln","s":"ga","v":5.07,"hi":5.12},
{"lab":"KPPR1+ 10 mM Pro","s":"ka","v":4.34,"hi":4.63},
{"lab":"KPPR1ΔgltA + 10 mM Pro","s":"ga","v":2.03,"hi":2.18},
{"lab":"KPPR1+ 10 mM 2-Keto","s":"ka","v":3.5,"hi":3.59},
{"lab":"KPPR1ΔgltA + 10 mM 2-Keto","s":"ga","v":0.19,"hi":0.24}
],
"fsig":[
{"lab":"KPPR1","b":"KPPR1ΔgltA","x":5.15},
{"lab":"KPPR1ΔgltA","b":"KPPR1ΔgltA + 10 mM Gln","x":5.69},
{"lab":"KPPR1ΔgltA","b":"KPPR1ΔgltA + 10 mM Pro","x":6.1},
{"lab":"KPPR1+ 10 mM Pro","b":"KPPR1ΔgltA + 10 mM Pro","x":5.14},
{"lab":"KPPR1+ 10 mM 2-Keto","b":"KPPR1ΔgltA + 10 mM 2-Keto","x":5.14}
],
"fstar":[
{"lab":"KPPR1","x":5.33},
{"lab":"KPPR1 + 10 mM Gln","x":5.86},
{"lab":"KPPR1 + 10 mM Gln","x":6.25},
{"lab":"KPPR1+ 10 mM Pro","x":5.33},
{"lab":"KPPR1+ 10 mM 2-Keto","x":5.33}
]
},
"config":{
"font":"Liberation Sans",
"view":{"stroke":null},
"axis":{"domainColor":"black","domainWidth":1.5,"tickColor":"black","tickWidth":1.5,"tickSize":5,"labelColor":"black","titleColor":"black","labelFont":"Liberation Sans","titleFont":"Liberation Sans","labelFontWeight":"bold","titleFontWeight":"bold","labelFontSize":11,"titleFontSize":12,"grid":false,"labelPadding":2,"labelOverlap":false,"labelFlush":false},
"legend":{"titleFont":"Liberation Sans","labelFont":"Liberation Sans","strokeWidth":1.5}
},
"columns":3,
"align":"each",
"bounds":"flush",
"spacing":{"row":60,"column":66},
"resolve":{"scale":{"fill":"independent","stroke":"independent"},"legend":{"fill":"independent","stroke":"independent"}},
"concat":[
{"width":209,"height":138,"data":{"name":"ln"},"transform":[{"filter":"datum.p=='A'"}],
"layer":[
{"mark":{"type":"line","strokeWidth":1,"clip":true},
"encoding":{"x":{"field":"t","type":"quantitative","scale":{"domain":[0,10.5],"nice":false,"zero":false},"axis":{"orient":"top","title":"Glutamate-10mM","titleX":104.5,"titleY":-5,"titleAlign":"center","titleBaseline":"alphabetic","titleFontSize":11,"labels":false,"ticks":false,"domain":false}},
"y":{"field":"y","type":"quantitative","scale":{"type":"log","domain":[0.00467,1.455],"nice":false}},
"stroke":{"field":"s","type":"nominal","scale":{"domain":["k","g","p","ka","ga","pa"],"range":["#111111","#3a9c3a","#e0407f","#2323b5","#c9c24a","#3fdcdc"]},"legend":null}}},
{"data":{"name":"err"},"transform":[{"filter":"datum.p=='A'"}],"mark":{"type":"rule","color":"#808080","strokeWidth":1,"clip":true},
"encoding":{"x":{"field":"t","type":"quantitative","axis":null},"y":{"field":"y","type":"quantitative"},"y2":{"field":"e"}}},
{"data":{"name":"err"},"transform":[{"filter":"datum.p=='A'"}],"mark":{"type":"tick","orient":"horizontal","color":"#808080","size":5,"thickness":1,"opacity":1,"clip":true},
"encoding":{"x":{"field":"t","type":"quantitative","axis":null},"y":{"field":"e","type":"quantitative"}}},
{"mark":{"type":"point","filled":true,"opacity":1,"size":22,"stroke":"black","strokeWidth":0.5,"clip":true},
"encoding":{"x":{"field":"t","type":"quantitative","axis":{"values":[0,2,4,6,8,10],"title":"Time (hr)","titlePadding":5}},
"y":{"field":"y","type":"quantitative","scale":{"type":"log","domain":[0.00467,1.455],"nice":false},"axis":{"values":[0.005,0.006,0.007,0.008,0.009,0.01,0.02,0.03,0.04,0.05,0.06,0.07,0.08,0.09,0.1,0.2,0.3,0.4,0.5,0.6,0.7,0.8,0.9,1],"labelExpr":"datum.value==0.01?'0.01':datum.value==0.1?'0.1':datum.value==1?'1':''","tickSize":{"condition":{"test":"datum.value==0.01||datum.value==0.1||datum.value==1","value":5},"value":3},"title":"OD₆₀₀","titleX":-24}},
"fill":{"field":"s","type":"nominal","scale":{"domain":["k","g","p","ka","ga","pa"],"range":["#111111","#3a9c3a","#e0407f","#2323b5","#c9c24a","#3fdcdc"]},"legend":null}}},
{"data":{"values":[{"p":"A"}]},"mark":{"type":"rule","opacity":0},
"encoding":{"x":{"datum":0,"type":"quantitative","axis":{"orient":"top","title":"A","titleX":-42,"titleY":-8.5,"titleAlign":"left","titleBaseline":"alphabetic","titleFontSize":17,"labels":false,"ticks":false,"domain":false}}}}
],
"resolve":{"axis":{"x":"independent"}}},
{"width":1,"height":1,"data":{"values":[{"p":"X"}]},"mark":{"type":"rule","opacity":0},"encoding":{}},
{"width":214,"height":138,
"layer":[
{"data":{"name":"b"},"mark":{"type":"bar","stroke":"black","strokeWidth":1.5},
"encoding":{"y":{"field":"lab","type":"nominal","sort":null,"scale":{"domain":["KPPR1","KPPR1ΔgltA","KPPR1ΔgltApGltA","KPPR1 + 10 mM Glu","KPPR1ΔgltA+ 10 mM Glu","KPPR1ΔgltApGltA + 10 mM Glu"],"range":[1,136],"paddingInner":0.43,"paddingOuter":0.4,"align":0.5},"axis":{"title":null,"labelFontSize":12,"tickSize":4,"labelLimit":300}},
"x":{"field":"v","type":"quantitative","scale":{"domain":[0,6],"nice":false},"axis":{"values":[0,2,4,6],"title":"AUC","titleFontSize":14,"labelFontSize":13,"labelPadding":2,"titlePadding":10,"offset":-2}},
"fill":{"field":"s","type":"nominal","scale":{"domain":["k","g","p","ka","ga","pa"],"range":["#000000","#000000","#f0207a","#1414f0","#c2bd00","#2ef2f2"]},"legend":null}}},
{"data":{"name":"b"},"mark":{"type":"rule","color":"black","strokeWidth":1.3},
"encoding":{"y":{"field":"lab","type":"nominal"},"x":{"field":"v","type":"quantitative","axis":null},"x2":{"field":"hi"}}},
{"data":{"name":"b"},"mark":{"type":"tick","orient":"vertical","color":"black","size":8,"thickness":1.3,"opacity":1},
"encoding":{"y":{"field":"lab","type":"nominal"},"x":{"field":"hi","type":"quantitative","axis":null}}},
{"data":{"values":[{"lab":"KPPR1ΔgltA","x":0.39}]},"mark":{"type":"text","text":"****","angle":90,"fontSize":10,"fontWeight":"bold","align":"center","baseline":"middle"},
"encoding":{"y":{"field":"lab","type":"nominal"},"x":{"field":"x","type":"quantitative","axis":null}}},
{"data":{"values":[{"p":"B"}]},"mark":{"type":"rule","opacity":0},
"encoding":{"x":{"datum":0,"type":"quantitative","axis":{"orient":"top","title":"B","titleX":-205,"titleY":-9,"titleAlign":"left","titleBaseline":"alphabetic","titleFontSize":17,"labels":false,"ticks":false,"domain":false}}}}
],
"resolve":{"axis":{"x":"independent"}}},
{"width":209,"height":141,"data":{"name":"ln"},"transform":[{"filter":"datum.p=='C'"}],
"layer":[
{"mark":{"type":"line","strokeWidth":1,"clip":true},
"encoding":{"x":{"field":"t","type":"quantitative","scale":{"domain":[0,10.5],"nice":false,"zero":false},"axis":{"orient":"top","title":"Glutamine-10mM","titleX":104.5,"titleY":-4.5,"titleAlign":"center","titleBaseline":"alphabetic","titleFontSize":11,"labels":false,"ticks":false,"domain":false}},
"y":{"field":"y","type":"quantitative","scale":{"type":"log","domain":[0.00475,1.093],"nice":false}},
"stroke":{"field":"s","type":"nominal","scale":{"domain":["k","g","p","ka","ga","pa"],"range":["#111111","#3a9c3a","#e0407f","#2323b5","#c9c24a","#3fdcdc"]},"legend":null}}},
{"data":{"name":"err"},"transform":[{"filter":"datum.p=='C'"}],"mark":{"type":"rule","color":"#808080","strokeWidth":1,"clip":true},
"encoding":{"x":{"field":"t","type":"quantitative","axis":null},"y":{"field":"y","type":"quantitative"},"y2":{"field":"e"}}},
{"data":{"name":"err"},"transform":[{"filter":"datum.p=='C'"}],"mark":{"type":"tick","orient":"horizontal","color":"#808080","size":5,"thickness":1,"opacity":1,"clip":true},
"encoding":{"x":{"field":"t","type":"quantitative","axis":null},"y":{"field":"e","type":"quantitative"}}},
{"mark":{"type":"point","filled":true,"opacity":1,"size":22,"stroke":"black","strokeWidth":0.5,"clip":true},
"encoding":{"x":{"field":"t","type":"quantitative","axis":{"values":[0,2,4,6,8,10],"title":"Time (hr)","titlePadding":5}},
"y":{"field":"y","type":"quantitative","scale":{"type":"log","domain":[0.00475,1.093],"nice":false},"axis":{"values":[0.005,0.006,0.007,0.008,0.009,0.01,0.02,0.03,0.04,0.05,0.06,0.07,0.08,0.09,0.1,0.2,0.3,0.4,0.5,0.6,0.7,0.8,0.9,1],"labelExpr":"datum.value==0.01?'0.01':datum.value==0.1?'0.1':datum.value==1?'1':''","tickSize":{"condition":{"test":"datum.value==0.01||datum.value==0.1||datum.value==1","value":5},"value":3},"title":"OD₆₀₀","titleX":-24}},
"fill":{"field":"s","type":"nominal","scale":{"domain":["k","g","p","ka","ga","pa"],"range":["#111111","#3a9c3a","#e0407f","#2323b5","#c9c24a","#3fdcdc"]},"legend":null}}},
{"data":{"values":[{"p":"C"}]},"mark":{"type":"rule","opacity":0},
"encoding":{"x":{"datum":0,"type":"quantitative","axis":{"orient":"top","title":"C","titleX":-42,"titleY":-5,"titleAlign":"left","titleBaseline":"alphabetic","titleFontSize":17,"labels":false,"ticks":false,"domain":false}}}}
],
"resolve":{"axis":{"x":"independent"}}},
{"width":97,"height":141,"data":{"name":"ln"},"transform":[{"filter":"datum.p=='D'"}],
"layer":[
{"mark":{"type":"line","strokeWidth":1},
"encoding":{"x":{"field":"t","type":"quantitative","scale":{"domain":[0,10.5],"nice":false,"zero":false,"range":[0,209]},"axis":{"orient":"top","title":"Proline-10mM","titleX":104.5,"titleY":-4.5,"titleAlign":"center","titleBaseline":"alphabetic","titleFontSize":11,"labels":false,"ticks":false,"domain":false}},
"y":{"field":"y","type":"quantitative","scale":{"type":"log","domain":[0.00475,1.093],"nice":false}},
"stroke":{"field":"s","type":"nominal","scale":{"domain":["g","k","ka","ga","p","pa"],"range":["#3a9c3a","#111111","#2323b5","#c9c24a","#e0407f","#3fdcdc"]},"legend":null}}},
{"data":{"name":"err"},"transform":[{"filter":"datum.p=='D'"}],"mark":{"type":"rule","color":"#808080","strokeWidth":1},
"encoding":{"x":{"field":"t","type":"quantitative","axis":null},"y":{"field":"y","type":"quantitative"},"y2":{"field":"e"}}},
{"data":{"name":"err"},"transform":[{"filter":"datum.p=='D'"}],"mark":{"type":"tick","orient":"horizontal","color":"#808080","size":5,"thickness":1,"opacity":1},
"encoding":{"x":{"field":"t","type":"quantitative","axis":null},"y":{"field":"e","type":"quantitative"}}},
{"mark":{"type":"point","filled":true,"opacity":1,"size":22,"stroke":"black","strokeWidth":0.5},
"encoding":{"x":{"field":"t","type":"quantitative","axis":{"values":[0,2,4,6,8,10],"title":"Time (hr)","titlePadding":5,"titleX":104.5}},
"y":{"field":"y","type":"quantitative","scale":{"type":"log","domain":[0.00475,1.093],"nice":false},"axis":{"values":[0.005,0.006,0.007,0.008,0.009,0.01,0.02,0.03,0.04,0.05,0.06,0.07,0.08,0.09,0.1,0.2,0.3,0.4,0.5,0.6,0.7,0.8,0.9,1],"labelExpr":"datum.value==0.01?'0.01':datum.value==0.1?'0.1':datum.value==1?'1':''","tickSize":{"condition":{"test":"datum.value==0.01||datum.value==0.1||datum.value==1","value":5},"value":3},"title":"OD₆₀₀","titleX":-24}},
"fill":{"field":"s","type":"nominal","scale":{"domain":["k","g","p","ka","ga","pa"],"range":["#111111","#3a9c3a","#e0407f","#2323b5","#c9c24a","#3fdcdc"]},
"legend":{"orient":"none","legendX":249,"legendY":29,"title":"In M9-glucose","titleFontSize":12,"titleFontWeight":"bold","titleColor":"black","titlePadding":2,"labelFontSize":11.5,"labelFontWeight":"bold","labelColor":"black","labelLimit":300,"padding":5,"strokeColor":"black","fillColor":"white","rowPadding":1.2,"symbolType":"M-1.9,0L-0.62,0M0.62,0L1.9,0M0.62,0A0.62,0.62,0,1,1,-0.62,0A0.62,0.62,0,1,1,0.62,0Z","symbolSize":49,"symbolOffset":2,"symbolStrokeColor":"black","symbolStrokeWidth":1,"labelOffset":8,"labelExpr":"datum.label=='k'?'KPPR1':datum.label=='g'?'KPPR1ΔgltA':datum.label=='p'?'KPPR1ΔgltApGltA':datum.label=='ka'?'KPPR1+AA':datum.label=='ga'?'KPPR1ΔgltA+AA':'KPPR1ΔgltApGltA+AA'"}}}},
{"data":{"values":[{"p":"D"}]},"mark":{"type":"rule","opacity":0},
"encoding":{"x":{"datum":0,"type":"quantitative","axis":{"orient":"top","title":"D","titleX":-43,"titleY":-8,"titleAlign":"left","titleBaseline":"alphabetic","titleFontSize":17,"labels":false,"ticks":false,"domain":false}}}}
],
"resolve":{"axis":{"x":"independent"}}},
{"width":1,"height":1,"data":{"values":[{"p":"Z"}]},"mark":{"type":"rule","opacity":0},"encoding":{}},
{"width":209,"height":144,"data":{"name":"ln"},"transform":[{"filter":"datum.p=='E'"}],
"layer":[
{"mark":{"type":"line","strokeWidth":1,"clip":true},
"encoding":{"x":{"field":"t","type":"quantitative","scale":{"domain":[0,10.5],"nice":false,"zero":false},"axis":{"orient":"top","title":"α-Ketoglutarate-10mM","titleX":104.5,"titleY":-2,"titleAlign":"center","titleBaseline":"alphabetic","titleFontSize":11,"labels":false,"ticks":false,"domain":false}},
"y":{"field":"y","type":"quantitative","scale":{"type":"log","domain":[0.00518,1.108],"nice":false,"range":[144,3]}},
"stroke":{"field":"s","type":"nominal","scale":{"domain":["k","g","p","ka","ga","pa"],"range":["#111111","#3a9c3a","#e0407f","#2323b5","#c9c24a","#3fdcdc"]},"legend":null}}},
{"data":{"name":"err"},"transform":[{"filter":"datum.p=='E'"}],"mark":{"type":"rule","color":"#808080","strokeWidth":1,"clip":true},
"encoding":{"x":{"field":"t","type":"quantitative","axis":null},"y":{"field":"y","type":"quantitative"},"y2":{"field":"e"}}},
{"data":{"name":"err"},"transform":[{"filter":"datum.p=='E'"}],"mark":{"type":"tick","orient":"horizontal","color":"#808080","size":5,"thickness":1,"opacity":1,"clip":true},
"encoding":{"x":{"field":"t","type":"quantitative","axis":null},"y":{"field":"e","type":"quantitative"}}},
{"mark":{"type":"point","filled":true,"opacity":1,"size":22,"stroke":"black","strokeWidth":0.5,"clip":true},
"encoding":{"x":{"field":"t","type":"quantitative","axis":{"values":[0,2,4,6,8,10],"title":"Time (hr)","titlePadding":5}},
"y":{"field":"y","type":"quantitative","scale":{"type":"log","domain":[0.00518,1.108],"nice":false,"range":[144,3]},"axis":{"values":[0.006,0.007,0.008,0.009,0.01,0.02,0.03,0.04,0.05,0.06,0.07,0.08,0.09,0.1,0.2,0.3,0.4,0.5,0.6,0.7,0.8,0.9,1],"labelExpr":"datum.value==0.01?'0.01':datum.value==0.1?'0.1':datum.value==1?'1':''","tickSize":{"condition":{"test":"datum.value==0.01||datum.value==0.1||datum.value==1","value":5},"value":3},"title":"OD₆₀₀","titleX":-24}},
"fill":{"field":"s","type":"nominal","scale":{"domain":["k","g","p","ka","ga","pa"],"range":["#111111","#3a9c3a","#e0407f","#2323b5","#c9c24a","#3fdcdc"]},"legend":null}}},
{"data":{"values":[{"p":"E"}]},"mark":{"type":"rule","opacity":0},
"encoding":{"x":{"datum":0,"type":"quantitative","axis":{"orient":"top","title":"E","titleX":-42,"titleY":-6,"titleAlign":"left","titleBaseline":"alphabetic","titleFontSize":17,"labels":false,"ticks":false,"domain":false}}}}
],
"resolve":{"axis":{"x":"independent"}}},
{"width":1,"height":1,"data":{"values":[{"p":"Y"}]},"mark":{"type":"rule","opacity":0},"encoding":{}},
{"width":227,"height":172,
"layer":[
{"data":{"name":"f"},"mark":{"type":"bar","stroke":"black","strokeWidth":1.5},
"encoding":{"y":{"field":"lab","type":"nominal","sort":null,"scale":{"domain":["KPPR1","KPPR1ΔgltA","KPPR1 + 10 mM Gln","KPPR1ΔgltA + 10 mM Gln","KPPR1+ 10 mM Pro","KPPR1ΔgltA + 10 mM Pro","KPPR1+ 10 mM 2-Keto","KPPR1ΔgltA + 10 mM 2-Keto"],"range":[15,171.7],"paddingInner":0.45,"paddingOuter":0.34,"align":0.1},"axis":{"title":null,"labelFontSize":14,"tickSize":4,"labelLimit":300}},
"x":{"field":"v","type":"quantitative","scale":{"domain":[0,6],"nice":false},"axis":{"values":[0,2,4,6],"title":"AUC","titleFontSize":14,"labelFontSize":14,"labelPadding":2,"titlePadding":10}},
"fill":{"field":"s","type":"nominal","scale":{"domain":["k","g","ka","ga"],"range":["#000000","#000000","#1414f0","#c2bd00"]},"legend":null}}},
{"data":{"name":"f"},"mark":{"type":"rule","color":"black","strokeWidth":1.3},
"encoding":{"y":{"field":"lab","type":"nominal"},"x":{"field":"v","type":"quantitative","axis":null},"x2":{"field":"hi"}}},
{"data":{"name":"f"},"mark":{"type":"tick","orient":"vertical","color":"black","size":8,"thickness":1.3,"opacity":1},
"encoding":{"y":{"field":"lab","type":"nominal"},"x":{"field":"hi","type":"quantitative","axis":null}}},
{"data":{"name":"fsig"},"mark":{"type":"rule","color":"black","strokeWidth":1.3},
"encoding":{"y":{"field":"lab","type":"nominal"},"y2":{"field":"b"},"x":{"field":"x","type":"quantitative","axis":null}}},
{"data":{"name":"fstar"},"mark":{"type":"text","text":"****","angle":90,"fontSize":10,"fontWeight":"bold","align":"left","baseline":"middle"},
"encoding":{"y":{"field":"lab","type":"nominal"},"x":{"field":"x","type":"quantitative","axis":null}}},
{"data":{"values":[{"p":"F"}]},"mark":{"type":"rule","opacity":0},
"encoding":{"x":{"datum":0,"type":"quantitative","axis":{"orient":"top","title":"F","titleX":-206,"titleY":-6,"titleAlign":"left","titleBaseline":"alphabetic","titleFontSize":17,"labels":false,"ticks":false,"domain":false}}}}
],
"resolve":{"axis":{"x":"independent"}}}
]
}
